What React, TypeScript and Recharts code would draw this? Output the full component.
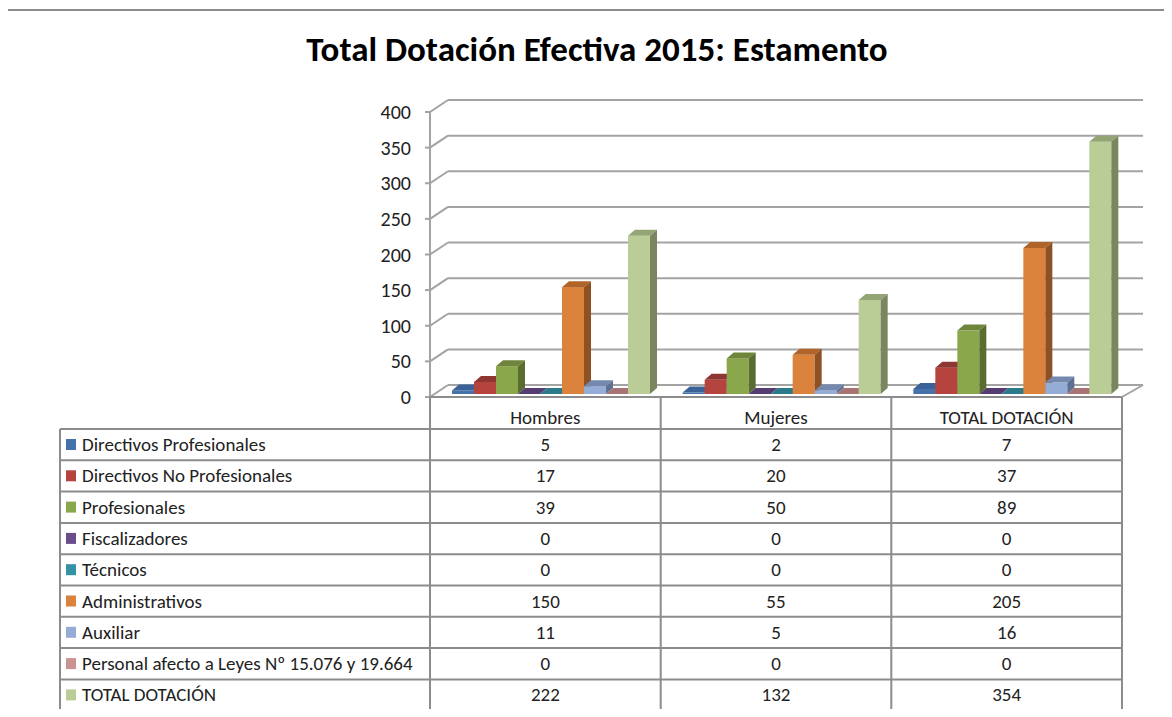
import React from "react";
import { BarChart, Bar, XAxis, YAxis, CartesianGrid } from "recharts";

const categories = ["Hombres", "Mujeres", "TOTAL DOTACIÓN"];
const seriesNames = [
  "Directivos Profesionales",
  "Directivos No Profesionales",
  "Profesionales",
  "Fiscalizadores",
  "Técnicos",
  "Administrativos",
  "Auxiliar",
  "Personal afecto a Leyes Nº 15.076 y 19.664",
  "TOTAL DOTACIÓN",
];
const directivosProfesionales = [5, 2, 7];
const directivosNoProfesionales = [17, 20, 37];
const profesionales = [39, 50, 89];
const fiscalizadores = [0, 0, 0];
const tecnicos = [0, 0, 0];
const administrativos = [150, 55, 205];
const auxiliar = [11, 5, 16];
const personalLeyes = [0, 0, 0];
const totalDotacion = [222, 132, 354];
const yTicks = [0, 50, 100, 150, 200, 250, 300, 350, 400];

const seriesValues = [
  directivosProfesionales,
  directivosNoProfesionales,
  profesionales,
  fiscalizadores,
  tecnicos,
  administrativos,
  auxiliar,
  personalLeyes,
  totalDotacion,
];

// front / top / side shades per series
const faces = [
  ["#4572AB", "#3A6298", "#2E4F7C"],
  ["#B5443F", "#8F3532", "#7A2C29"],
  ["#8BA74C", "#6E853B", "#5A6D30"],
  ["#6B4D8C", "#553D72", "#44305C"],
  ["#3592A4", "#2A7A8A", "#216270"],
  ["#DB823C", "#B0642A", "#8E5124"],
  ["#94ACD6", "#7489AD", "#5F7192"],
  ["#C99392", "#A87473", "#8C5F5E"],
  ["#BBCD96", "#93A475", "#79865F"],
];

const data = categories.map((c, i) => {
  const row: Record<string, any> = { name: c };
  seriesValues.forEach((vals, s) => (row["s" + s] = vals[i]));
  return row;
});

const PLOT_LEFT = 430;
const PLOT_RIGHT = 1122;
const BASE = 394;
const TOP = 109;
const DX = 18;
const DY = 9;
const FONT = "Carlito, 'Liberation Sans', Arial, sans-serif";
const GRID = "#A3A3A3";

const colEdges = [60, 430, 660.7, 891.3, 1122];
const headerTop = 397;
const rowTop = 429;
const rowH = 31.3;
const TXT = 19;

function Bar3D(s: number) {
  return (props: any) => {
    const { x, y, width, height } = props;
    const [front, top, side] = faces[s];
    const bx = x + 6;
    const d = 7;
    const e = 6;
    const h = Math.max(height, 0);
    return (
      <g>
        {h > 0 && <rect x={bx} y={y} width={width} height={h} fill={front} />}
        <polygon
          points={`${bx},${y} ${bx + width},${y} ${bx + width + d},${y - e} ${bx + d},${y - e}`}
          fill={top}
        />
        {h > 0 && (
          <polygon
            points={`${bx + width},${y} ${bx + width + d},${y - e} ${bx + width + d},${y + h - e} ${bx + width},${y + h}`}
            fill={side}
          />
        )}
      </g>
    );
  };
}

const backLine = (p: any) => (
  <g key={p.key}>
    <line x1={p.x1 + DX} y1={p.y1 - DY} x2={p.x2 + 21} y2={p.y2 - DY} stroke={GRID} strokeWidth={2} />
    <line x1={p.x1} y1={p.y1 + 3} x2={p.x1 + DX} y2={p.y1 - DY} stroke={GRID} strokeWidth={2} />
  </g>
);

const yTick = (p: any) => (
  <g>
    <line x1={PLOT_LEFT - 5} y1={p.y + 3} x2={PLOT_LEFT} y2={p.y + 3} stroke={GRID} strokeWidth={2} />
    <text x={411} y={p.y + 10} textAnchor="end" fontFamily={FONT} fontSize={20} fill="#222">
      {p.payload.value}
    </text>
  </g>
);

export default function App() {
  return (
    <div style={{ position: "relative", width: 1172, height: 717, margin: -8, background: "#fff", overflow: "hidden" }}>
      <div style={{ position: "absolute", left: 0, top: 0 }}>
        <BarChart
          width={1172}
          height={717}
          data={data}
          margin={{ top: TOP, bottom: 717 - BASE, left: PLOT_LEFT - 60, right: 1172 - PLOT_RIGHT }}
          barGap={0}
          barSize={22}
        >
          <CartesianGrid vertical={false} horizontal={backLine} />
          <XAxis dataKey="name" hide />
          <YAxis
            width={60}
            domain={[0, 400]}
            ticks={yTicks}
            tickLine={false}
            axisLine={false}
            tick={yTick}
            interval={0}
          />
          {seriesNames.map((n, s) => (
            <Bar key={n} dataKey={"s" + s} name={n} fill={faces[s][0]} shape={Bar3D(s)} isAnimationActive={false} />
          ))}
        </BarChart>
      </div>
      <svg width={1172} height={717} style={{ position: "absolute", left: 0, top: 0, pointerEvents: "none" }}>
        <rect x={4} y={10} width={1200} height={800} fill="none" stroke="#8C8C8C" strokeWidth={2} />
        <text x={597} y={61} textAnchor="middle" fontFamily={FONT} fontWeight="bold" fontSize={35} fill="#000">
          Total Dotación Efectiva 2015: Estamento
        </text>
        {/* front axis and floor */}
        <line x1={PLOT_LEFT} y1={112} x2={PLOT_LEFT} y2={headerTop} stroke={GRID} strokeWidth={2} />
        <line x1={PLOT_RIGHT} y1={headerTop} x2={PLOT_RIGHT + 21} y2={headerTop - 12} stroke={GRID} strokeWidth={2} />
        {/* table */}
        <g stroke="#8C8C8C" strokeWidth={2}>
          <line x1={PLOT_LEFT} y1={headerTop} x2={PLOT_RIGHT} y2={headerTop} />
          {Array.from({ length: seriesNames.length + 1 }).map((_, i) => (
            <line key={i} x1={colEdges[0]} y1={rowTop + i * rowH} x2={PLOT_RIGHT} y2={rowTop + i * rowH} />
          ))}
          <line x1={colEdges[0]} y1={rowTop} x2={colEdges[0]} y2={rowTop + seriesNames.length * rowH} />
          {colEdges.slice(1).map((cx, i) => (
            <line key={i} x1={cx} y1={headerTop} x2={cx} y2={rowTop + seriesNames.length * rowH} />
          ))}
        </g>
        {categories.map((c, i) => (
          <text
            key={c}
            x={(colEdges[i + 1] + colEdges[i + 2]) / 2}
            y={headerTop + 27}
            textAnchor="middle"
            fontFamily={FONT}
            fontSize={TXT}
            fill="#222"
          >
            {c}
          </text>
        ))}
        {seriesNames.map((n, s) => (
          <g key={n}>
            <rect x={66} y={rowTop + s * rowH + 10} width={10} height={11} fill={faces[s][0]} />
            <text x={82} y={rowTop + s * rowH + 22} fontFamily={FONT} fontSize={TXT} fill="#222">
              {n}
            </text>
            {seriesValues[s].map((v, i) => (
              <text
                key={i}
                x={(colEdges[i + 1] + colEdges[i + 2]) / 2}
                y={rowTop + s * rowH + 22}
                textAnchor="middle"
                fontFamily={FONT}
                fontSize={TXT}
                fill="#222"
              >
                {v}
              </text>
            ))}
          </g>
        ))}
      </svg>
    </div>
  );
}
